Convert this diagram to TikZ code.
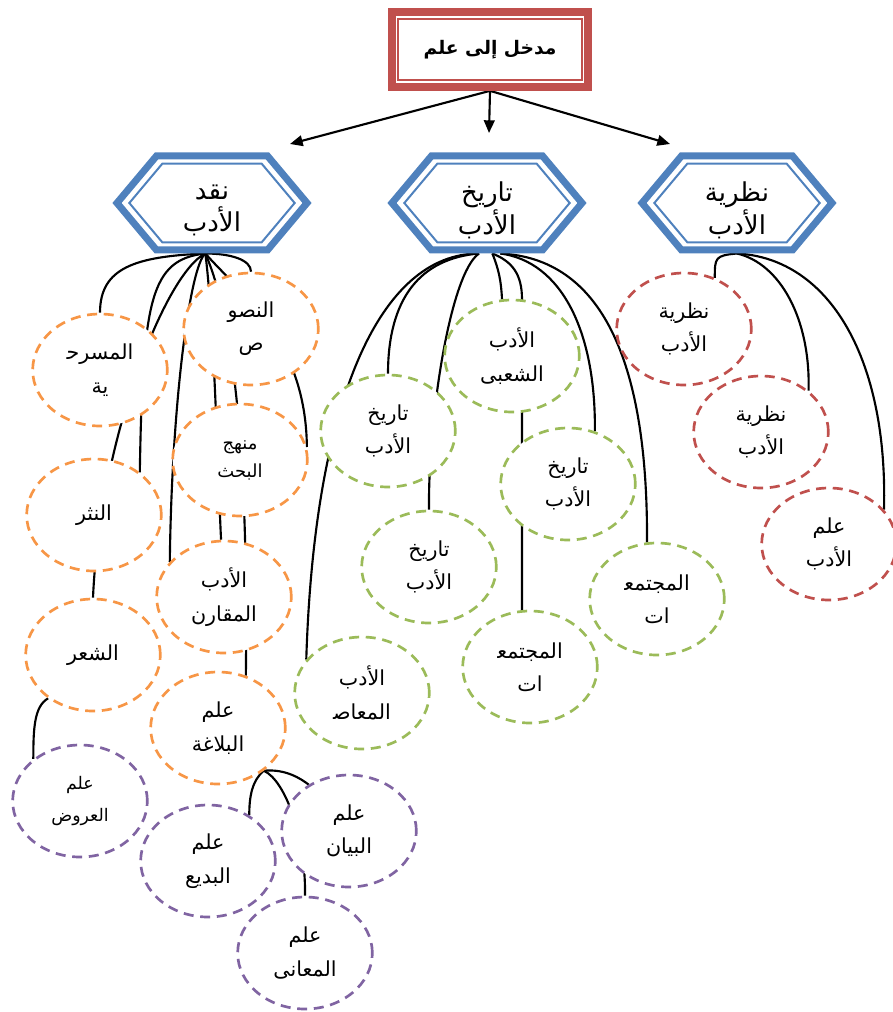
\documentclass[tikz,border=0pt]{standalone}
\usepackage{fontspec}
\newfontfamily\arabicfont[Script=Arabic]{DejaVu Sans}
\TeXXeTstate=1
\usetikzlibrary{arrows.meta, backgrounds, shapes.geometric, shapes.symbols}
\definecolor{blueC}{HTML}{4F81BD}
\definecolor{redC}{HTML}{C0504D}
\definecolor{orangeC}{HTML}{F79646}
\definecolor{greenC}{HTML}{9BBB59}
\definecolor{purpleC}{HTML}{8064A2}
\newcommand{\arl}[1]{\beginR#1\endR}
\newcommand{\hexl}[1]{\raisebox{-5.5pt}[\height][\depth]{\beginR#1\endR}}
\tikzset{
    boxOut/.style={draw=redC, line width=6pt, minimum width=147pt, minimum height=56pt,
        inner sep=0pt, font=\arabicfont\bfseries\fontsize{14}{17}\selectfont},
    boxIn/.style={draw=redC, line width=1.5pt, minimum width=138pt, minimum height=45.75pt, inner sep=0pt}
}
\tikzset{
    hexOut/.style={signal, signal to=east and west, signal pointer angle=100, draw=blueC,
        line width=5.25pt, minimum width=142.5pt, minimum height=70.5pt, inner sep=0pt,
        align=center, font=\arabicfont\fontsize{19.5}{24.5}\selectfont},
    hexIn/.style={signal, signal to=east and west, signal pointer angle=100, draw=blueC,
        line width=1.5pt, minimum width=124pt, minimum height=59pt, inner sep=0pt}
}
\tikzset{
    bubble/.style={ellipse, draw=#1, fill=white, line width=2pt, dash pattern=on 7.5pt off 5pt,
        minimum width=101pt, minimum height=84pt, inner sep=0pt, align=center,
        font=\arabicfont\fontsize{15.5}{25}\selectfont},
    bubble/.default={orangeC},
    link/.style={draw=black, line width=1.6pt},
    arrowT/.style={draw=black, line width=1.6pt, -{Triangle[length=9.5pt, width=8pt]}}
}
\begin{document}
\begin{tikzpicture}[x=0.75pt, y=-0.75pt]
    \useasboundingbox (0,0) rectangle (892,1012);
    \node[boxOut] (madkhal) at (490,49.5) {\arl{مدخل إلى علم}};
    \node[boxIn] (madkhal-in) at (madkhal) {};
    \node[hexOut] (naqd) at (212,203) {\hexl{نقد}\\\hexl{الأدب}};
    \node[hexIn] (naqd-in) at (naqd) {};
    \node[hexOut] (tarikh) at (487,203) {\hexl{تاريخ}\\\hexl{الأدب}};
    \node[hexIn] (tarikh-in) at (tarikh) {};
    \node[hexOut] (nazariya) at (737,203) {\hexl{نظرية}\\\hexl{الأدب}};
    \node[hexIn] (nazariya-in) at (nazariya) {};
    \coordinate (tipL) at (290,144);
    \coordinate (tipM) at (489,133);
    \coordinate (tipR) at (670,144);
    % orange
    \node[bubble] (nusus) at (251,329) {\arl{النصو}\\\arl{ص}};
    \node[bubble] (masrah) at (100,370) {\arl{المسرح^^^^200d}\\\arl{ية}};
    \node[bubble] (nathr) at (94,515) {\arl{النثر}};
    \node[bubble] (shir) at (93,655) {\arl{الشعر}};
    \node[bubble, font=\arabicfont\fontsize{13.5}{21}\selectfont] (manhaj) at (240,460) {\arl{منهج}\\\arl{البحث}};
    \node[bubble] (muqaran) at (224,597) {\arl{الأدب}\\\arl{المقارن}};
    \node[bubble] (balagha) at (218,728) {\arl{علم}\\\arl{البلاغة}};
    % purple
    \node[bubble=purpleC, font=\arabicfont\fontsize{13}{24}\selectfont] (arud) at (80,801) {\arl{علم}\\\arl{العروض}};
    \node[bubble=purpleC] (badi) at (208,861) {\arl{علم}\\\arl{البديع}};
    \node[bubble=purpleC] (bayan) at (349,831) {\arl{علم}\\\arl{البيان}};
    \node[bubble=purpleC] (maani) at (305,953) {\arl{علم}\\\arl{المعانى}};
    % green
    \node[bubble=greenC] (shabi) at (512,356) {\arl{الأدب}\\\arl{الشعبى}};
    \node[bubble=greenC] (tarikh1) at (388,431) {\arl{تاريخ}\\\arl{الأدب}};
    \node[bubble=greenC] (tarikh2) at (568,484) {\arl{تاريخ}\\\arl{الأدب}};
    \node[bubble=greenC] (tarikh3) at (429,567) {\arl{تاريخ}\\\arl{الأدب}};
    \node[bubble=greenC] (mujt1) at (657,599) {\arl{المجتمع^^^^200d}\\\arl{ات}};
    \node[bubble=greenC] (mujt2) at (530,667) {\arl{المجتمع^^^^200d}\\\arl{ات}};
    \node[bubble=greenC] (muasir) at (362,693) {\arl{الأدب}\\\arl{المعاص^^^^200d}};
    % red
    \node[bubble=redC] (naz1) at (684,329) {\arl{نظرية}\\\arl{الأدب}};
    \node[bubble=redC] (naz2) at (761,432) {\arl{نظرية}\\\arl{الأدب}};
    \node[bubble=redC] (ilm) at (829,544) {\arl{علم}\\\arl{الأدب}};
    \coordinate (oL) at ([xshift=-5pt]naqd.south);
    \coordinate (oM) at ([xshift=-6pt]tarikh.south);
    \coordinate (oN) at ([xshift=4pt]tarikh.south);
    \coordinate (oP) at ([xshift=10pt]tarikh.south);
    \coordinate (oR) at (nazariya.south);
    \begin{scope}[on background layer]
    \draw[arrowT] (madkhal.south) -- (tipL);
    \draw[arrowT] (madkhal.south) -- (tipM);
    \draw[arrowT] (madkhal.south) -- (tipR);
    \draw[link] (oL) .. controls +(-70,3) and +(0,-45) .. (masrah.north);
    \draw[link] (oL) .. controls +(-40,20) and +(7,-159) .. (shir.north);
    \draw[link] (oL) .. controls +(-55,6) and +(3,-173) .. (nathr.43);
    \draw[link] (oL) .. controls +(-15,12) and +(2,-162) .. (muqaran.147);
    \draw[link] (oL) .. controls +(9,70) and +(-6,-117) .. (muqaran);
    \draw[link] (oL) .. controls +(35,80) and +(2,-170) .. (balagha.62);
    \draw[link] (oL) .. controls +(35,40) and +(-1,-107) .. (manhaj.11);
    \draw[link] (oL) .. controls +(25,0) and +(0,-12) .. (nusus.north);
    \draw[link] (shir.224) .. controls +(-14,8) and +(0,-30) .. (arud.138);
    \draw[link] (oM) .. controls +(-99,0) and +(8,-260) .. (muasir.149);
    \draw[link] (oM) .. controls +(-59,5) and +(0,-75) .. (tarikh1.north);
    \draw[link] (oM) .. controls +(-29,20) and +(-1,-91) .. (tarikh3.north);
    \draw[link] (oN) .. controls +(6,15) and +(-1,-20) .. (shabi.100);
    \draw[link] (oN) .. controls +(20,8) and +(0,-25) .. (shabi.80) -- (mujt2.98);
    \draw[link] (oP) .. controls +(60,8) and +(1,-102) .. (tarikh2.63);
    \draw[link] (oP) .. controls +(100,5) and +(1,-184) .. (mujt1.100);
    \draw[link] (oR) .. controls +(-22,2) and +(0,-20) .. (naz1.59);
    \draw[link] (oR) .. controls +(43,10) and +(2,-72) .. (naz2.41);
    \draw[link] (oR) .. controls +(93,5) and +(4,-150) .. (ilm.32);
    \draw[link] (balagha.-43) .. controls +(-12,10) and +(0,-18) .. (badi.48);
    \draw[link] (balagha.-43) .. controls +(22,-2) and +(-8,-6) .. (bayan.131);
    \draw[link] (balagha.-43) .. controls +(22,10) and +(1,-57) .. (maani.north);
    \end{scope}
\end{tikzpicture}
\end{document}
